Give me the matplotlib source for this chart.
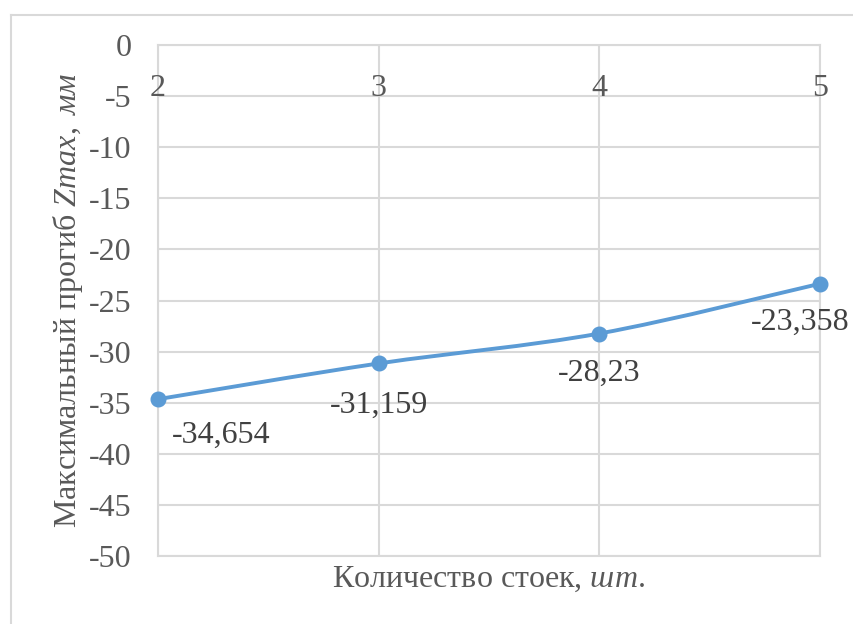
import matplotlib.pyplot as plt
from matplotlib.lines import Line2D
from matplotlib.path import Path
from matplotlib.patches import PathPatch

plt.rcParams['font.family'] = ['Liberation Serif', 'DejaVu Serif']
plt.rcParams['mathtext.fontset'] = 'custom'
plt.rcParams['mathtext.rm'] = 'Liberation Serif'
plt.rcParams['mathtext.it'] = 'Liberation Serif:italic'

# number of posts vs. maximum deflection
posts = [2, 3, 4, 5]
zmax = [-34.654, -31.159, -28.23, -23.358]
value_labels = ['-34,654', '-31,159', '-28,23', '-23,358']
y_ticks = [0, -5, -10, -15, -20, -25, -30, -35, -40, -45, -50]

line_color = '#5b9bd5'
grid_color = '#d9d9d9'
text_color = '#595959'

fig = plt.figure(figsize=(8.54, 6.24), dpi=100)
ax = fig.add_axes([158 / 854, 1 - 556 / 624, 662 / 854, 511 / 624])

# chart area frame (top and left edges visible)
fig.add_artist(Line2D([11 / 854, 1], [1 - 15 / 624, 1 - 15 / 624],
                      transform=fig.transFigure, color=grid_color, lw=1.5))
fig.add_artist(Line2D([11 / 854, 11 / 854], [0, 1 - 15 / 624],
                      transform=fig.transFigure, color=grid_color, lw=1.5))

ax.set_xlim(posts[0], posts[-1])
ax.set_ylim(-50, 0)
ax.set_yticks(y_ticks)
ax.set_yticklabels([str(t) for t in y_ticks])
ax.set_xticks(posts)
ax.tick_params(axis='x', length=0, labelbottom=False)
ax.tick_params(axis='y', length=0, pad=19, labelsize=23, labelcolor=text_color)
ax.grid(True, color=grid_color, lw=1.5)
ax.set_axisbelow(True)
for s in ax.spines.values():
    s.set_color(grid_color)
    s.set_linewidth(1.5)

# category labels hang just under the zero line
for x in posts:
    ax.annotate(str(x), (x, 0), xytext=(0, -31), textcoords='offset points',
                ha='center', va='center', fontsize=23, color=text_color,
                annotation_clip=False)

# smoothed line (Excel-style Bezier through the points)
pts = list(zip(posts, zmax))
verts = [pts[0]]
codes = [Path.MOVETO]
n = len(pts)
for i in range(n - 1):
    p0 = pts[max(i - 1, 0)]
    p1 = pts[i]
    p2 = pts[i + 1]
    p3 = pts[min(i + 2, n - 1)]
    c1 = (p1[0] + (p2[0] - p0[0]) / 6, p1[1] + (p2[1] - p0[1]) / 6)
    c2 = (p2[0] - (p3[0] - p1[0]) / 6, p2[1] - (p3[1] - p1[1]) / 6)
    verts += [c1, c2, p2]
    codes += [Path.CURVE4] * 3
ax.add_patch(PathPatch(Path(verts, codes), facecolor='none',
                       edgecolor=line_color, lw=2.8, capstyle='round',
                       clip_on=False, zorder=3))
ax.plot(posts, zmax, ls='none', marker='o', ms=10.5, color=line_color,
        clip_on=False, zorder=4)

# value labels below each point
offsets = [(10, -26, 'left'), (0, -30, 'center'), (0, -29, 'center'),
           (-14, -28, 'center')]
for x, y, lab, (dx, dy, ha) in zip(posts, zmax, value_labels, offsets):
    ax.annotate(lab, (x, y), xytext=(dx, dy), textcoords='offset points',
                ha=ha, va='center', fontsize=23, color='#404040',
                annotation_clip=False)

ax.set_xlabel(r'Количество стоек, $\mathit{шт}$.', fontsize=23,
              color=text_color, labelpad=6)
ax.set_ylabel(r'Максимальный прогиб $\mathit{Zmax,\ мм}$', fontsize=23,
              color=text_color, labelpad=3)

fig.savefig('out.png', dpi=100)
